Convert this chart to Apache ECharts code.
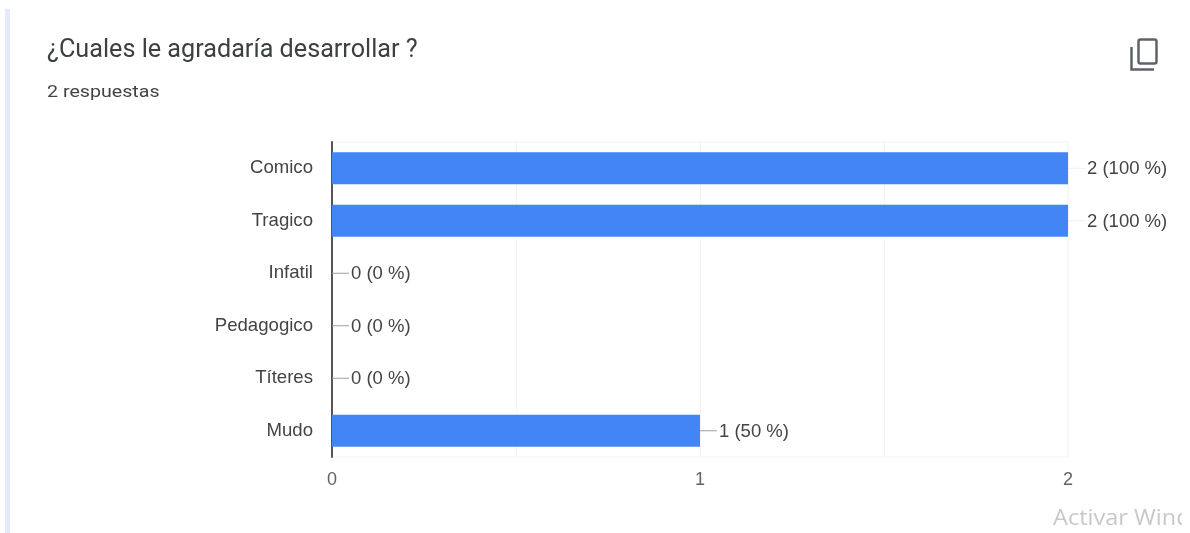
<!DOCTYPE html>
<html>
<head>
<meta charset="utf-8">
<style>html,body{margin:0;padding:0;background:#fff}#chart{width:1190px;height:533px}</style>
<script src="https://cdn.jsdelivr.net/npm/echarts@6/dist/echarts.min.js"></script>
</head>
<body>
<div id="chart"></div>
<script>
// Survey answers, one row per option
const categories = ['Comico', 'Tragico', 'Infatil', 'Pedagogico', 'Títeres', 'Mudo'];
const counts = [2, 2, 0, 0, 0, 1];
const percents = [100, 100, 0, 0, 0, 50];
const axisTicks = ['0', '1', '2'];

const labelFont = '"Liberation Sans", Arial, sans-serif';
const headFont = 'Roboto, Arial, sans-serif';
const chart = echarts.init(document.getElementById('chart'), null, { renderer: 'canvas' });

chart.setOption({
  animation: false,
  backgroundColor: '#ffffff',
  grid: { left: 332, right: 122, top: 142, bottom: 76, show: true, borderColor: '#f3f3f3', borderWidth: 1 },
  xAxis: {
    type: 'value', min: 0, max: 2, interval: 0.5,
    axisLine: { show: false }, axisTick: { show: false },
    splitLine: { show: true, lineStyle: { color: '#f5f5f5', width: 1 } },
    axisLabel: {
      color: '#5f6368', fontFamily: labelFont, fontSize: 18, margin: 14,
      formatter: v => (Number.isInteger(v) ? axisTicks[v] : '')
    }
  },
  yAxis: {
    type: 'category', inverse: true, data: categories,
    axisLine: { show: true, onZero: false, lineStyle: { color: '#555555', width: 2 } },
    axisTick: { show: false },
    axisLabel: { color: '#444444', fontFamily: labelFont, fontSize: 18.6, margin: 19, padding: [4, 0, 0, 0] }
  },
  series: [
    {
      type: 'bar', data: counts, barCategoryGap: '39%', z: 3,
      itemStyle: { color: '#4285f4' },
      label: {
        show: true, position: 'right', distance: 19, offset: [0, 1],
        color: '#444444', fontFamily: labelFont, fontSize: 18.5,
        formatter: p => `${counts[p.dataIndex]} (${percents[p.dataIndex]} %)`
      }
    },
    {
      // Short leader line between each bar end and its label
      type: 'custom', data: counts, z: 2, silent: true,
      renderItem: (params, api) => {
        const p = api.coord([api.value(0), params.dataIndex]);
        return {
          type: 'line',
          shape: { x1: p[0], y1: p[1], x2: p[0] + 17, y2: p[1] },
          style: { stroke: counts[params.dataIndex] === 2 ? '#f0f0f0' : '#9e9e9e', lineWidth: 1 }
        };
      },
      encode: { x: 0 }
    }
  ],
  graphic: [
    { type: 'rect', shape: { x: 5, y: 9, width: 5, height: 524 }, style: { fill: '#e3ebfa' } },
    { type: 'text', x: 47, y: 50.5, style: { text: '¿Cuales le agradaría desarrollar ?', fill: '#3c4043', font: '25.2px ' + headFont, textVerticalAlign: 'middle' } },
    { type: 'text', x: 47, y: 93, scaleX: 1.155, style: { text: '2 respuestas', fill: '#444444', font: '17px ' + headFont, textVerticalAlign: 'middle' } },
    { type: 'rect', shape: { x: 1138.5, y: 39.5, width: 18, height: 24, r: 2 }, style: { fill: 'none', stroke: '#5f6368', lineWidth: 2.5 } },
    { type: 'polyline', shape: { points: [[1131.5, 47], [1131.5, 69.5], [1154, 69.5]] }, style: { fill: 'none', stroke: '#5f6368', lineWidth: 2.5 } },
    { type: 'text', x: 1053, y: 519, scaleX: 1.07, style: { text: 'Activar Windows', fill: '#c8c8c8', font: '22px "Open Sans", sans-serif', textVerticalAlign: 'middle' } },
    { type: 'rect', shape: { x: 1182, y: 0, width: 8, height: 533 }, style: { fill: '#ffffff' }, z: 100 }
  ]
});
</script>
</body>
</html>
